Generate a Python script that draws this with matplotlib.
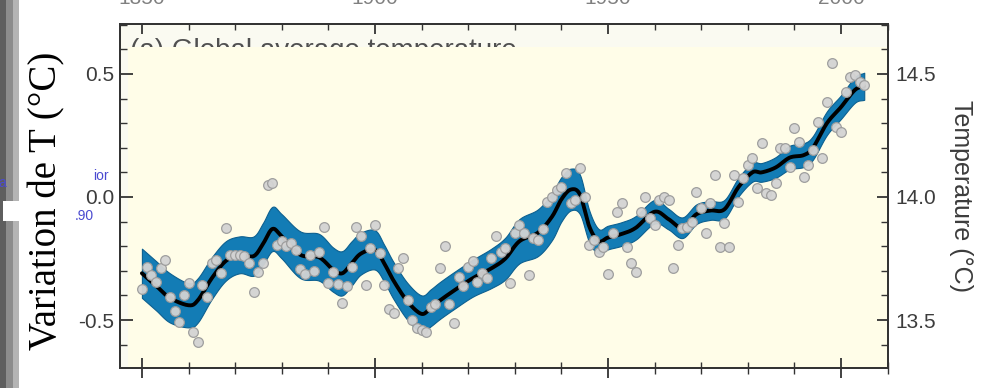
import numpy as np
import matplotlib
matplotlib.use("Agg")
import matplotlib.pyplot as plt
from matplotlib.patches import Rectangle
from matplotlib.ticker import MultipleLocator, FixedLocator

# ---------------- data ----------------
years = list(range(1850, 2006))
anomaly = [
    -0.375, -0.286, -0.317, -0.344, -0.290, -0.256, -0.405, -0.462, -0.507, -0.398,   # 1850s
    -0.348, -0.547, -0.588, -0.358, -0.405, -0.267, -0.256, -0.310, -0.127, -0.236,   # 1860s
    -0.236, -0.236, -0.240, -0.267, -0.385, -0.304, -0.270, 0.049, 0.058, -0.195,     # 1870s
    -0.177, -0.200, -0.186, -0.215, -0.294, -0.313, -0.236, -0.300, -0.222, -0.123,   # 1880s
    -0.351, -0.304, -0.354, -0.430, -0.362, -0.286, -0.120, -0.159, -0.358, -0.209,   # 1890s
    -0.114, -0.229, -0.358, -0.457, -0.473, -0.290, -0.249, -0.420, -0.500, -0.534,   # 1900s
    -0.540, -0.547, -0.446, -0.435, -0.290, -0.199, -0.435, -0.511, -0.326, -0.362,   # 1910s
    -0.286, -0.259, -0.344, -0.308, -0.330, -0.249, -0.159, -0.222, -0.209, -0.351,   # 1920s
    -0.148, -0.114, -0.148, -0.317, -0.168, -0.175, -0.131, -0.019, 0.001, 0.028,     # 1930s
    0.042, 0.099, -0.026, -0.012, 0.117, 0.001, -0.195, -0.175, -0.222, -0.202,       # 1940s
    -0.313, -0.148, -0.060, -0.026, -0.202, -0.270, -0.304, -0.060, 0.001, -0.087,    # 1950s
    -0.114, -0.012, 0.001, -0.012, -0.290, -0.195, -0.127, -0.121, -0.100, 0.022,     # 1960s
    -0.046, -0.148, -0.026, 0.089, -0.202, -0.107, -0.202, 0.089, -0.019, 0.076,      # 1970s
    0.130, 0.157, 0.035, 0.218, 0.015, 0.008, 0.056, 0.198, 0.200, 0.123,             # 1980s
    0.279, 0.225, 0.083, 0.130, 0.191, 0.306, 0.157, 0.387, 0.546, 0.286,             # 1990s
    0.265, 0.428, 0.489, 0.496, 0.469, 0.455,                                         # 2000s
]

smooth_years = [1850, 1853, 1856, 1860, 1862, 1865, 1868, 1871, 1874, 1876,
                1878, 1880, 1884, 1888, 1891, 1893, 1895, 1897, 1900, 1902,
                1904, 1907, 1910, 1912, 1914, 1917, 1921, 1925, 1928, 1931,
                1935, 1938, 1940, 1942, 1944, 1946, 1948, 1950, 1953, 1956,
                1960, 1963, 1966, 1969, 1972, 1975, 1978, 1981, 1983, 1986,
                1989, 1992, 1994, 1997, 2000, 2003, 2005]
smooth_vals = [-0.31, -0.36, -0.41, -0.44, -0.42, -0.33, -0.26, -0.235, -0.24, -0.19,
               -0.13, -0.16, -0.235, -0.245, -0.295, -0.31, -0.27, -0.23, -0.215, -0.27,
               -0.34, -0.425, -0.475, -0.45, -0.42, -0.38, -0.33, -0.29, -0.25, -0.18,
               -0.145, -0.08, -0.01, 0.03, 0.01, -0.12, -0.18, -0.165, -0.15, -0.125,
               -0.06, -0.09, -0.125, -0.07, -0.055, -0.05, 0.04, 0.10, 0.10, 0.12,
               0.16, 0.17, 0.20, 0.30, 0.365, 0.435, 0.45]
band_half = [0.10, 0.10, 0.10, 0.09, 0.09, 0.085, 0.08, 0.075, 0.08, 0.085,
             0.09, 0.09, 0.095, 0.095, 0.09, 0.09, 0.09, 0.085, 0.08, 0.075,
             0.075, 0.075, 0.075, 0.075, 0.075, 0.075, 0.075, 0.08, 0.085, 0.09,
             0.095, 0.095, 0.09, 0.085, 0.08, 0.065, 0.05, 0.048, 0.048, 0.048,
             0.048, 0.042, 0.042, 0.04, 0.038, 0.038, 0.038, 0.038, 0.038, 0.042,
             0.048, 0.048, 0.048, 0.048, 0.048, 0.052, 0.055]

x_major = [1850, 1900, 1950, 2000]
left_ticks = [-0.5, 0.0, 0.5]
left_labels = ["-0.5", "0.0", "0.5"]
right_offset = 14.0
right_ticks = [13.5, 14.0, 14.5]
right_labels = ["13.5", "14.0", "14.5"]

title_text = "(a) Global average temperature"
ylabel_left = "Variation de T (°C)"
ylabel_right = "Temperature (°C)"


def smooth_path(xs, ys, n=12):
    """Catmull-Rom rendering of a polyline through the read points."""
    xs = np.asarray(xs, float)
    ys = np.asarray(ys, float)
    px = np.concatenate([[2 * xs[0] - xs[1]], xs, [2 * xs[-1] - xs[-2]]])
    py = np.concatenate([[2 * ys[0] - ys[1]], ys, [2 * ys[-1] - ys[-2]]])
    outx, outy = [], []
    t = np.linspace(0, 1, n, endpoint=False)
    for i in range(1, len(px) - 2):
        for arr, out in ((px, outx), (py, outy)):
            p0, p1, p2, p3 = arr[i - 1], arr[i], arr[i + 1], arr[i + 2]
            out.extend(0.5 * ((2 * p1) + (-p0 + p2) * t
                              + (2 * p0 - 5 * p1 + 4 * p2 - p3) * t ** 2
                              + (-p0 + 3 * p1 - 3 * p2 + p3) * t ** 3))
    outx.append(xs[-1])
    outy.append(ys[-1])
    return np.array(outx), np.array(outy)


# ---------------- figure ----------------
W, H = 982, 388
fig = plt.figure(figsize=(W / 100, H / 100), dpi=100)
fig.patch.set_facecolor("white")


def fx(px):
    return px / W


def fy(py):
    return 1 - py / H


# grey strip on the far left
fig.patches.append(Rectangle((0, 0), fx(6), 1, transform=fig.transFigure,
                             facecolor="#5e5e5e", edgecolor="none", zorder=0))
fig.patches.append(Rectangle((fx(6), 0), fx(7), 1, transform=fig.transFigure,
                             facecolor="#8c8c8c", edgecolor="none", zorder=0))
fig.patches.append(Rectangle((fx(13), 0), fx(6), 1, transform=fig.transFigure,
                             facecolor="#b4b4b4", edgecolor="none", zorder=0))
fig.patches.append(Rectangle((fx(3), fy(221)), fx(32), 20 / H, transform=fig.transFigure,
                             facecolor="white", edgecolor="none", zorder=0))

ax = fig.add_axes([fx(120), fy(368), fx(888 - 120), (368 - 24) / H])
ax.set_facecolor("#fafaf1")
ax.set_xlim(1845.3, 2010.1)
ylo, yhi = -0.695, 0.703
ax.set_ylim(ylo, yhi)

# cream overlay pasted over the original panel
ax.add_patch(Rectangle((0.01, 0), 0.99, (368 - 47) / (368 - 24),
                       transform=ax.transAxes, facecolor="#fffde8", edgecolor="none", zorder=1))
ax.text(0.013, 1 - (58 - 24) / (368 - 24), title_text, transform=ax.transAxes, fontsize=20,
        family=["Liberation Sans", "DejaVu Sans"], color="#505050", zorder=0.8,
        va="baseline", ha="left")

sx, sy = smooth_path(smooth_years, smooth_vals)
_, shw = smooth_path(smooth_years, band_half)
ax.fill_between(sx, sy - shw, sy + shw, color="#137cb5",
                edgecolor="#0d6090", linewidth=0.8, zorder=2)
ax.plot(sx, sy, color="black", lw=2.8, solid_joinstyle="round",
        solid_capstyle="round", zorder=3)
ax.plot(years, anomaly, linestyle="none", marker="o", markersize=7,
        markerfacecolor="#d3d3d3", markeredgecolor="#9b9b9b", markeredgewidth=0.9,
        alpha=0.95, zorder=4)

# ticks
sans = ["Liberation Sans", "DejaVu Sans"]
ax.xaxis.set_major_locator(FixedLocator(x_major))
ax.xaxis.set_minor_locator(MultipleLocator(10))
ax.tick_params(axis="x", which="both", top=True, bottom=True, labeltop=True,
               labelbottom=False, direction="in", color="#333333")
ax.tick_params(axis="x", which="major", length=7, width=1.3, pad=11.5,
               labelsize=15, labelcolor="#808080")
ax.tick_params(axis="x", which="minor", length=4, width=1.0)
for lab in ax.get_xticklabels():
    lab.set_family(sans)

ax.set_yticks(left_ticks)
ax.set_yticklabels(left_labels, family=sans)
ax.yaxis.set_minor_locator(MultipleLocator(0.1))
ax.tick_params(axis="y", which="both", left=True, right=False, direction="in",
               color="#333333")
ax.tick_params(axis="y", which="major", length=9, width=1.3, pad=4,
               labelsize=15, labelcolor="#3c3c3c")
ax.tick_params(axis="y", which="minor", length=5, width=1.0)

for s in ax.spines.values():
    s.set_color("#333333")
    s.set_linewidth(1.3)

# bottom ticks stick through the axis line
ax2b = ax.secondary_xaxis("bottom")
ax2b.xaxis.set_major_locator(FixedLocator(x_major))
ax2b.xaxis.set_minor_locator(MultipleLocator(10))
ax2b.tick_params(which="major", direction="out", length=7, width=1.3, color="#333333",
                 labelbottom=False)
ax2b.tick_params(which="minor", direction="out", length=4, width=1.0, color="#333333")
ax2b.spines["bottom"].set_visible(False)

axr = ax.twinx()
axr.set_ylim(ylo + right_offset, yhi + right_offset)
axr.set_yticks(right_ticks)
axr.set_yticklabels(right_labels, family=sans)
axr.yaxis.set_minor_locator(MultipleLocator(0.1))
axr.tick_params(axis="y", which="both", direction="in", color="#333333")
axr.tick_params(axis="y", which="major", length=8, width=1.3, pad=5,
                labelsize=15, labelcolor="#3c3c3c")
axr.tick_params(axis="y", which="minor", length=5, width=1.0)
for s in axr.spines.values():
    s.set_color("#333333")
    s.set_linewidth(1.3)
axr.set_ylabel(ylabel_right, rotation=270, fontsize=18, family=sans,
               color="#3c3c3c", labelpad=27)

# left overlay label (serif) and leftover fragments
fig.text(fx(47), fy(201), ylabel_left, rotation=90, fontsize=28,
         family=["Liberation Serif", "DejaVu Serif"], color="black",
         ha="center", va="center")
fig.text(fx(93), fy(176), "ior", fontsize=10, color="#4a4ad0", family=sans,
         ha="left", va="center")
fig.text(fx(75), fy(216), ".90", fontsize=10, color="#4a4ad0", family=sans,
         ha="left", va="center")
fig.text(fx(-2), fy(183), "a", fontsize=10, color="#4a4ad0", family=sans,
         ha="left", va="center")

fig.savefig("out.png", dpi=100)
